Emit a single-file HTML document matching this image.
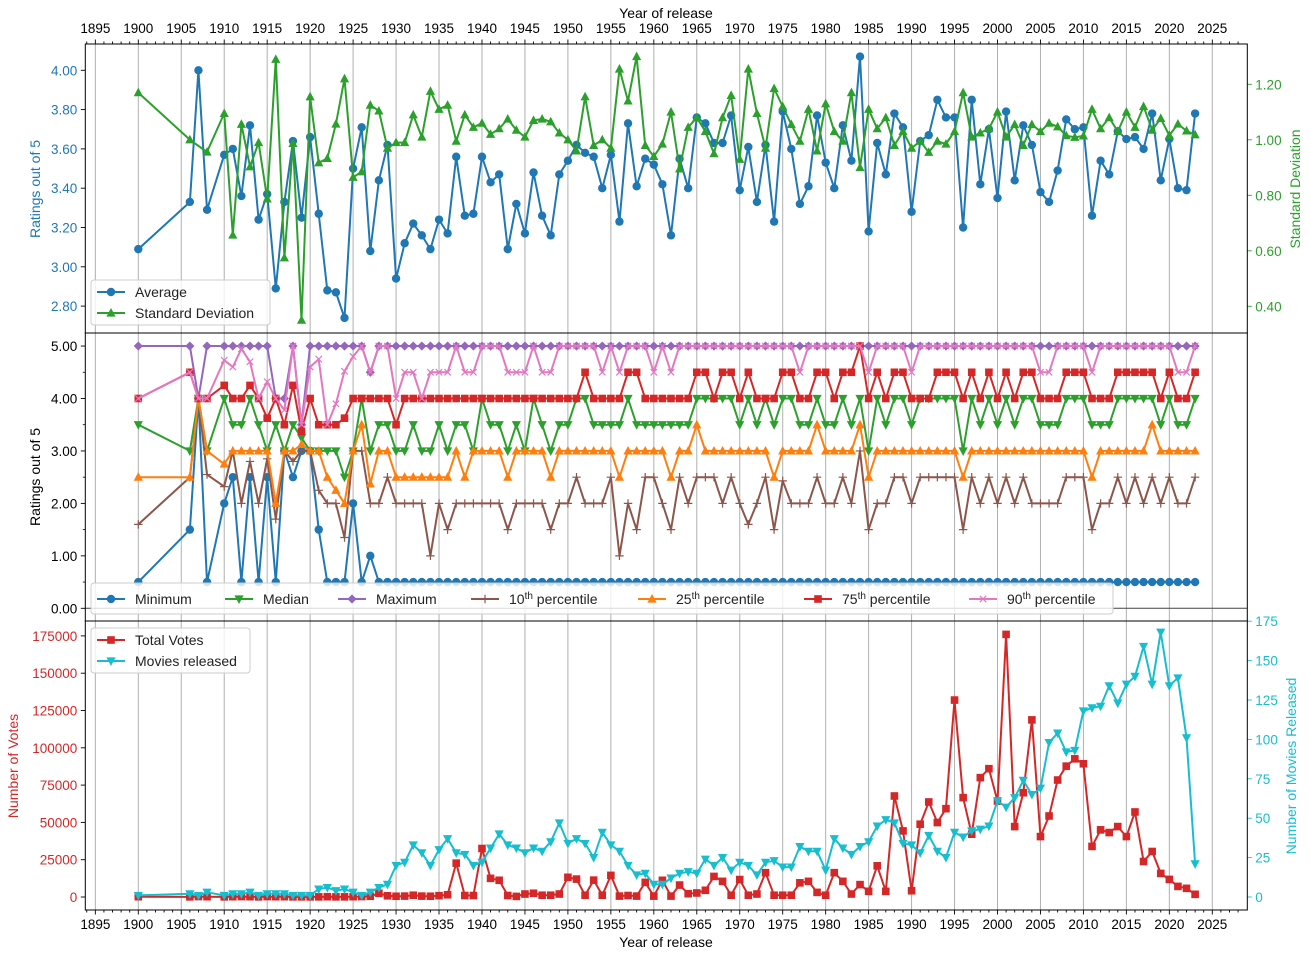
<!DOCTYPE html>
<html><head><meta charset="utf-8"><style>
html,body{margin:0;padding:0;background:#fff;}
svg{display:block;font-family:"Liberation Sans","DejaVu Sans",sans-serif;}
</style></head><body>
<svg id="chart" width="1310" height="957" viewBox="0 0 1310 957" xmlns="http://www.w3.org/2000/svg"></svg>
<script>
const years=[1900,1906,1907,1908,1910,1911,1912,1913,1914,1915,1916,1917,1918,1919,1920,1921,1922,1923,1924,1925,1926,1927,1928,1929,1930,1931,1932,1933,1934,1935,1936,1937,1938,1939,1940,1941,1942,1943,1944,1945,1946,1947,1948,1949,1950,1951,1952,1953,1954,1955,1956,1957,1958,1959,1960,1961,1962,1963,1964,1965,1966,1967,1968,1969,1970,1971,1972,1973,1974,1975,1976,1977,1978,1979,1980,1981,1982,1983,1984,1985,1986,1987,1988,1989,1990,1991,1992,1993,1994,1995,1996,1997,1998,1999,2000,2001,2002,2003,2004,2005,2006,2007,2008,2009,2010,2011,2012,2013,2014,2015,2016,2017,2018,2019,2020,2021,2022,2023];
const averageRating=[3.09,3.33,4.00,3.29,
3.57,3.60,3.36,3.72,3.24,3.37,2.89,3.33,3.64,3.25,
3.66,3.27,2.88,2.87,2.74,3.50,3.71,3.08,3.44,3.62,
2.94,3.12,3.22,3.16,3.09,3.24,3.17,3.56,3.26,3.27,
3.56,3.43,3.47,3.09,3.32,3.17,3.48,3.26,3.16,3.47,
3.54,3.62,3.58,3.56,3.40,3.57,3.23,3.73,3.41,3.55,
3.52,3.42,3.16,3.55,3.40,3.76,3.73,3.63,3.63,3.77,
3.39,3.61,3.33,3.62,3.23,3.79,3.60,3.32,3.41,3.77,
3.53,3.40,3.72,3.54,4.07,3.18,3.63,3.47,3.78,3.71,
3.28,3.64,3.67,3.85,3.76,3.76,3.20,3.85,3.42,3.70,
3.35,3.79,3.44,3.72,3.62,3.38,3.33,3.49,3.75,3.70,
3.71,3.26,3.54,3.47,3.69,3.65,3.66,3.60,3.78,3.44,
3.65,3.40,3.39,3.78];
const stdDev=[1.17,1.00,null,0.956,
1.095,0.657,1.056,0.903,0.99,0.787,1.29,0.575,0.987,0.35,
1.155,0.917,0.933,1.057,1.22,0.865,0.885,1.125,1.104,0.97,
0.99,0.99,1.09,1.01,1.175,1.11,1.125,0.995,1.09,1.045,
1.06,1.02,1.04,1.075,1.035,1.01,1.07,1.075,1.065,1.025,
1.00,0.96,1.155,0.98,1.00,0.97,1.255,1.14,1.30,0.98,
0.94,0.985,1.10,0.895,1.045,1.08,1.03,0.95,1.08,1.16,
0.93,1.255,1.095,0.97,1.185,1.12,1.055,0.995,1.11,0.96,
1.13,1.03,0.995,1.17,0.9,1.11,1.04,1.08,0.98,1.03,
0.97,0.995,0.955,0.995,0.985,1.03,1.17,1.01,1.025,1.04,
1.10,1.01,1.055,0.98,1.055,1.03,1.06,1.047,1.015,1.009,
1.014,1.11,1.04,1.08,1.03,1.10,1.045,1.12,1.035,1.077,
1.016,1.057,1.032,1.018];
const minimum=[0.5,1.5,4.0,0.5,
2.0,2.5,0.5,2.5,0.5,2.5,0.5,3.0,2.5,3.0,
3.0,1.5,0.5,0.5,0.5,2.0,0.5,1.0,0.5,0.5,
0.5,0.5,0.5,0.5,0.5,0.5,0.5,0.5,0.5,0.5,
0.5,0.5,0.5,0.5,0.5,0.5,0.5,0.5,0.5,0.5,
0.5,0.5,0.5,0.5,0.5,0.5,0.5,0.5,0.5,0.5,
0.5,0.5,0.5,0.5,0.5,0.5,0.5,0.5,0.5,0.5,
0.5,0.5,0.5,0.5,0.5,0.5,0.5,0.5,0.5,0.5,
0.5,0.5,0.5,0.5,0.5,0.5,0.5,0.5,0.5,0.5,
0.5,0.5,0.5,0.5,0.5,0.5,0.5,0.5,0.5,0.5,
0.5,0.5,0.5,0.5,0.5,0.5,0.5,0.5,0.5,0.5,
0.5,0.5,0.5,0.5,0.5,0.5,0.5,0.5,0.5,0.5,
0.5,0.5,0.5,0.5];
const median=[3.5,3.0,4.0,3.0,
4.0,3.5,3.5,4.0,3.5,3.0,3.5,3.0,3.5,3.25,
3.0,3.0,3.0,3.0,2.5,3.0,4.0,3.0,3.5,3.5,
3.0,3.0,3.5,3.0,3.0,3.5,3.0,3.5,3.5,3.0,
4.0,3.5,3.5,3.0,3.5,3.0,4.0,3.5,3.0,3.5,
3.5,4.0,4.0,3.5,3.5,3.5,3.5,4.0,3.5,3.5,
3.5,3.5,3.5,3.5,3.5,4.0,4.0,4.0,4.0,4.0,
3.5,4.0,3.5,4.0,3.5,4.0,4.0,3.5,3.5,4.0,
3.5,3.5,4.0,3.5,4.0,3.0,4.0,3.5,4.0,4.0,
3.5,4.0,4.0,4.0,4.0,4.0,3.0,4.0,3.5,4.0,
3.5,4.0,3.5,4.0,4.0,3.5,3.5,3.5,4.0,4.0,
4.0,3.5,3.5,3.5,4.0,4.0,4.0,4.0,4.0,3.5,
4.0,3.5,3.5,4.0];
const maximum=[5,5,4,5,
5,5,5,5,5,5,4,4,5,3.5,
5,5,5,5,5,5,5,4.5,5,5,
5,5,5,5,5,5,5,5,5,5,
5,5,5,5,5,5,5,5,5,5,
5,5,5,5,5,5,5,5,5,5,
5,5,5,5,5,5,5,5,5,5,
5,5,5,5,5,5,5,5,5,5,
5,5,5,5,5,5,5,5,5,5,
5,5,5,5,5,5,5,5,5,5,
5,5,5,5,5,5,5,5,5,5,
5,5,5,5,5,5,5,5,5,5,
5,5,5,5];
const p10=[1.6,2.5,4.0,2.55,
2.32,3.0,2.0,2.8,2.0,2.85,1.7,3.0,2.8,3.0,
3.0,2.25,2.0,2.0,1.35,3.0,3.0,2.0,2.0,2.5,
2.0,2.0,2.0,2.0,1.0,2.0,1.5,2.0,2.0,2.0,
2.0,2.0,2.0,1.5,2.0,2.0,2.0,2.0,1.5,2.0,
2.0,2.5,2.0,2.0,2.0,2.5,1.0,2.0,1.5,2.5,
2.5,2.0,1.5,2.5,2.0,2.5,2.5,2.5,2.0,2.5,
2.0,1.6,2.0,2.5,1.5,2.43,2.0,2.0,2.0,2.5,
2.0,2.0,2.5,2.0,3.0,1.5,2.0,2.0,2.5,2.5,
2.0,2.5,2.5,2.5,2.5,2.5,1.5,2.5,2.0,2.5,
2.0,2.5,2.0,2.5,2.0,2.0,2.0,2.0,2.5,2.5,
2.5,1.5,2.0,2.0,2.5,2.0,2.5,2.0,2.5,2.0,
2.5,2.0,2.0,2.5];
const p25=[2.5,2.5,4.0,3.0,
2.75,3.0,3.0,3.0,3.0,3.0,2.0,3.0,3.0,3.125,
3.0,3.0,2.5,2.25,2.0,3.0,3.5,2.375,3.0,3.0,
2.5,2.5,2.5,2.5,2.5,2.5,2.5,3.0,2.5,3.0,
3.0,3.0,3.0,2.5,3.0,3.0,3.0,3.0,2.5,3.0,
3.0,3.0,3.0,3.0,3.0,3.0,2.5,3.0,3.0,3.0,
3.0,3.0,2.5,3.0,3.0,3.5,3.0,3.0,3.0,3.0,
3.0,3.0,3.0,3.0,2.5,3.0,3.0,3.0,3.0,3.5,
3.0,3.0,3.0,3.0,3.5,2.5,3.0,3.0,3.0,3.0,
3.0,3.0,3.0,3.0,3.0,3.0,2.5,3.0,3.0,3.0,
3.0,3.0,3.0,3.0,3.0,3.0,3.0,3.0,3.0,3.0,
3.0,2.5,3.0,3.0,3.0,3.0,3.0,3.0,3.5,3.0,
3.0,3.0,3.0,3.0];
const p75=[4.0,4.5,4.0,4.0,
4.25,4.0,4.0,4.25,4.0,3.625,4.0,3.5,4.25,3.375,
4.0,3.5,3.5,3.5,3.625,4.0,4.0,4.0,4.0,4.0,
3.5,4.0,4.0,4.0,4.0,4.0,4.0,4.0,4.0,4.0,
4.0,4.0,4.0,4.0,4.0,4.0,4.0,4.0,4.0,4.0,
4.0,4.0,4.5,4.0,4.0,4.0,4.0,4.5,4.5,4.0,
4.0,4.0,4.0,4.0,4.0,4.5,4.5,4.0,4.5,4.5,
4.0,4.5,4.0,4.0,4.0,4.5,4.5,4.0,4.0,4.5,
4.5,4.0,4.5,4.5,5.0,4.0,4.5,4.0,4.5,4.5,
4.0,4.0,4.0,4.5,4.5,4.5,4.0,4.5,4.0,4.5,
4.0,4.5,4.0,4.5,4.5,4.0,4.0,4.0,4.5,4.5,
4.5,4.0,4.0,4.0,4.5,4.5,4.5,4.5,4.5,4.0,
4.5,4.0,4.0,4.5];
const p90=[4.0,4.5,4.0,4.0,
4.73,4.6,4.95,4.7,4.0,4.32,4.0,3.78,5.0,3.5,
4.6,4.75,3.5,3.9,4.52,4.8,5.0,4.5,5.0,5.0,
4.0,4.5,4.5,4.0,4.5,4.5,4.5,5.0,4.5,4.5,
5.0,5.0,5.0,4.5,4.5,4.5,5.0,4.5,4.5,5.0,
5.0,5.0,5.0,5.0,4.5,5.0,4.5,5.0,5.0,5.0,
4.5,5.0,4.5,5.0,5.0,5.0,5.0,5.0,5.0,5.0,
5.0,5.0,5.0,5.0,5.0,5.0,5.0,4.5,5.0,5.0,
5.0,5.0,5.0,5.0,5.0,4.5,5.0,5.0,5.0,5.0,
4.5,5.0,5.0,5.0,5.0,5.0,5.0,5.0,5.0,5.0,
5.0,5.0,5.0,5.0,5.0,4.5,4.5,5.0,5.0,5.0,
5.0,4.5,5.0,5.0,5.0,5.0,5.0,5.0,5.0,5.0,
5.0,4.5,4.5,5.0];
const totalVotes=[200,100,300,200,
100,200,300,200,100,300,200,200,100,100,
100,100,200,100,100,200,300,500,2500,800,
500,600,1200,600,500,900,1500,22700,1000,1000,
32500,12500,11200,1000,400,2000,2500,1200,1200,2000,
13200,12000,1200,11300,1200,14500,600,1000,600,9800,
600,11200,600,8000,2200,2700,4500,13800,10500,1200,
11700,1200,2000,16300,1200,1200,1200,9500,10500,3100,
1200,16300,10500,2000,8300,3800,20900,3800,67700,44300,
4200,48800,63700,49900,59200,132000,66600,42100,80000,86000,
64300,176000,47200,69900,118700,40500,54300,78400,87700,92600,
89300,33900,45000,43200,47200,40500,57000,23800,30500,15800,
11800,7100,5800,1800];
const moviesReleased=[1,2,1,3,
1,2,2,3,1,2,2,2,1,1,
1,5,6,4,5,3,1,3,6,8,
20,22,33,28,20,30,37,28,27,20,
22,31,40,33,31,28,31,29,35,47,
34,37,34,25,41,33,29,20,14,15,
8,8,12,15,16,15,24,20,25,17,
22,20,14,22,23,19,19,32,29,29,
17,37,31,27,32,35,45,49,47,34,
33,28,39,29,25,41,38,42,43,45,
61,57,63,74,65,69,98,104,92,93,
118,120,121,134,123,135,140,159,135,168,
134,139,101,21];
const xTicks=[1895,1900,1905,1910,1915,1920,1925,1930,1935,1940,1945,1950,1955,1960,1965,1970,1975,1980,1985,1990,1995,2000,2005,2010,2015,2020,2025];
const avgTicks=[2.8,3.0,3.2,3.4,3.6,3.8,4.0];
const stdTicks=[0.4,0.6,0.8,1.0,1.2];
const midTicks=[0,1,2,3,4,5];
const voteTicks=[0,25000,50000,75000,100000,125000,150000,175000];
const movieTicks=[0,25,50,75,100,125,150,175];

const NS="http://www.w3.org/2000/svg";
const svg=document.getElementById('chart');
const L=85.3,R=1247.3;
const P1={t:44,b:333},P2={t:333,b:621},P3={t:621,b:910};
function xS(y){return 138.3+(y-1900)*8.592;}
function yAvg(v){return 70.3+(4.0-v)*196.5;}
function yStd(v){return 84.3+(1.2-v)*277.5;}
function yMid(v){return 608.3-v*52.45;}
function yVote(v){return 897-v/25000*37.3;}
function yMov(v){return 897-v/25*39.4;}
const C={blue:'#1f77b4',green:'#2ca02c',purple:'#9467bd',brown:'#8c564b',orange:'#ff7f0e',red:'#d62728',pink:'#e377c2',cyan:'#17becf'};

function mk(tag,attrs,parent){const e=document.createElementNS(NS,tag);for(const k in attrs)e.setAttribute(k,attrs[k]);(parent||svg).appendChild(e);return e;}
function txt(s,x,y,anchor,fill,size,parent){const t=mk('text',{x:x,y:y,'text-anchor':anchor,fill:fill,'font-size':size||13.5},parent);t.textContent=s;return t;}

function marker(g,type,x,y,color){
  let e;
  if(type==='o'){e=mk('circle',{cx:x,cy:y,r:4.2,fill:color},g);}
  else if(type==='^'){e=mk('polygon',{points:`${x},${y-5} ${x-4.6},${y+3.6} ${x+4.6},${y+3.6}`,fill:color},g);}
  else if(type==='v'){e=mk('polygon',{points:`${x},${y+5} ${x-4.6},${y-3.6} ${x+4.6},${y-3.6}`,fill:color},g);}
  else if(type==='D'){e=mk('polygon',{points:`${x},${y-4.6} ${x+4.6},${y} ${x},${y+4.6} ${x-4.6},${y}`,fill:color},g);}
  else if(type==='s'){e=mk('rect',{x:x-3.8,y:y-3.8,width:7.6,height:7.6,fill:color},g);}
  else if(type==='+'){e=mk('path',{d:`M${x-4.2},${y}H${x+4.2}M${x},${y-4.2}V${y+4.2}`,stroke:color,'stroke-width':1.2,fill:'none'},g);}
  else if(type==='x'){e=mk('path',{d:`M${x-3.2},${y-3.2}L${x+3.2},${y+3.2}M${x-3.2},${y+3.2}L${x+3.2},${y-3.2}`,stroke:color,'stroke-width':1.2,fill:'none'},g);}
  
  
}
function series(name,vals,yf,color,type){
  const g=mk('g',{});
  
  
  const pts=[];
  vals.forEach((v,i)=>{if(v!==null&&v!==undefined)pts.push([xS(years[i]),yf(v)]);});
  const ln=mk('polyline',{points:pts.map(p=>p[0].toFixed(1)+','+p[1].toFixed(1)).join(' '),fill:'none',stroke:color,'stroke-width':2,'stroke-linejoin':'round'},g);
  
  
  pts.forEach(p=>marker(g,type,p[0],p[1],color));
}

// grid lines
const grid=mk('g',{});


xTicks.forEach(t=>{[P1,P2,P3].forEach(P=>{mk('line',{x1:xS(t),x2:xS(t),y1:P.t,y2:P.b,stroke:'#b0b0b0','stroke-width':1},grid);});});
// zero line in middle
mk('line',{x1:L,x2:R,y1:yMid(0),y2:yMid(0),stroke:'#444','stroke-width':1});

// x ticks top and bottom
const xt=mk('g',{});


for(let y=1894;y<=2028;y++){
  const x=xS(y); if(x<L||x>R)continue;
  const major=xTicks.includes(y);
  const len=major?4.5:2.5;
  mk('line',{x1:x,x2:x,y1:P1.t,y2:P1.t-len,stroke:'#000','stroke-width':0.9},xt);
  mk('line',{x1:x,x2:x,y1:P3.b,y2:P3.b+len,stroke:'#000','stroke-width':0.9},xt);
}
xTicks.forEach(t=>{txt(String(t),xS(t),33,'middle','#000',13.5,xt);txt(String(t),xS(t),929,'middle','#000',13.5,xt);});
const xt1=txt('Year of release',666,18,'middle','#000',14);

const xt2=txt('Year of release',666,947,'middle','#000',14);


// y ticks
function yAxis(ticks,yf,side,color,fmt,name){
  const g=mk('g',{});
  
  
  ticks.forEach(t=>{
    const y=yf(t);
    if(side==='L'){mk('line',{x1:L,x2:L-4.5,y1:y,y2:y,stroke:'#000','stroke-width':0.9},g);txt(fmt(t),L-8,y+5,'end',color,13.5,g);}
    else{mk('line',{x1:R,x2:R+4.5,y1:y,y2:y,stroke:color,'stroke-width':0.9},g);txt(fmt(t),R+8,y+5,'start',color,13.5,g);}
  });
}
yAxis(avgTicks,yAvg,'L',C.blue,v=>v.toFixed(2),'avg-y-axis');
yAxis(stdTicks,yStd,'R',C.green,v=>v.toFixed(2),'std-y-axis');
yAxis(midTicks,yMid,'L','#000',v=>v.toFixed(2),'percentile-y-axis');
yAxis(voteTicks,yVote,'L',C.red,v=>String(v),'votes-y-axis');
yAxis(movieTicks,yMov,'R',C.cyan,v=>String(v),'movies-y-axis');
[0.5,1.5,2.5,3.5,4.5].forEach(t=>mk('line',{x1:L,x2:L-2.5,y1:yMid(t),y2:yMid(t),stroke:'#000','stroke-width':0.8}));

function ylab(s,x,y,color,name){const t=txt(s,x,y,'middle',color,14);t.setAttribute('transform',`rotate(-90 ${x} ${y})`);}
ylab('Ratings out of 5',40,189,C.blue,'avg-y-title');
ylab('Standard Deviation',1300,189,C.green,'std-y-title');
ylab('Ratings out of 5',40,477,'#000','percentile-y-title');
ylab('Number of Votes',18,766,C.red,'votes-y-title');
ylab('Number of Movies Released',1296,766,C.cyan,'movies-y-title');

// series
series('average-series',averageRating,yAvg,C.blue,'o');
series('std-series',stdDev,yStd,C.green,'^');
series('minimum-series',minimum,yMid,C.blue,'o');
series('median-series',median,yMid,C.green,'v');
series('maximum-series',maximum,yMid,C.purple,'D');
series('p10-series',p10,yMid,C.brown,'+');
series('p25-series',p25,yMid,C.orange,'^');
series('p75-series',p75,yMid,C.red,'s');
series('p90-series',p90,yMid,C.pink,'x');
series('votes-series',totalVotes,yVote,C.red,'s');
series('movies-series',moviesReleased,yMov,C.cyan,'v');

// spines
[P1,P2,P3].forEach(P=>mk('rect',{x:L,y:P.t,width:R-L,height:P.b-P.t,fill:'none',stroke:'#000','stroke-width':1}));

// legends
function legend(name,x,y,w,h,entries){
  const g=mk('g',{});
  
  
  mk('rect',{x:x,y:y,width:w,height:h,rx:3,fill:'#fff','fill-opacity':0.8,stroke:'#ccc','stroke-width':1},g);
  entries.forEach(e=>{
    const eg=mk('g',{},g);
    
    
    mk('line',{x1:e.x,x2:e.x+28,y1:e.y,y2:e.y,stroke:e.c,'stroke-width':2},eg);
    marker(eg,e.m,e.x+14,e.y,e.c);
    const t=mk('text',{x:e.x+38,y:e.y+5,fill:'#222','font-size':14},eg);
    if(e.sup){const a=mk('tspan',{},t);a.textContent=e.sup;const b=mk('tspan',{'font-size':10,dy:-5},t);b.textContent='th';const c=mk('tspan',{dy:5},t);c.textContent=' percentile';}
    else t.textContent=e.t;
  });
}
legend('ratings-legend',91,280,179,45,[{x:97,y:292,c:C.blue,m:'o',t:'Average'},{x:97,y:313,c:C.green,m:'^',t:'Standard Deviation'}]);
legend('percentile-legend',91,583,1022,31,[
 {x:97,y:599,c:C.blue,m:'o',t:'Minimum'},
 {x:225,y:599,c:C.green,m:'v',t:'Median'},
 {x:338,y:599,c:C.purple,m:'D',t:'Maximum'},
 {x:471,y:599,c:C.brown,m:'+',sup:'10'},
 {x:638,y:599,c:C.orange,m:'^',sup:'25'},
 {x:804,y:599,c:C.red,m:'s',sup:'75'},
 {x:969,y:599,c:C.pink,m:'x',sup:'90'}]);
legend('votes-legend',91,628,159,45,[{x:97,y:640,c:C.red,m:'s',t:'Total Votes'},{x:97,y:661,c:C.cyan,m:'v',t:'Movies released'}]);
</script>
</body></html>
